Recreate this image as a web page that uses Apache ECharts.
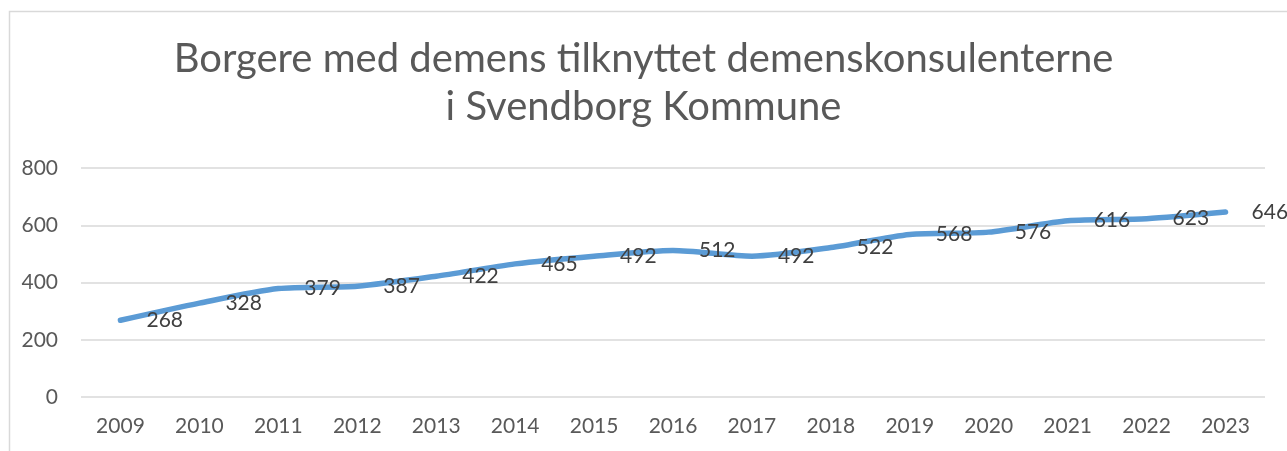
<!DOCTYPE html>
<html>
<head>
<meta charset="utf-8">
<script src="https://cdn.jsdelivr.net/npm/echarts@6/dist/echarts.min.js"></script>
<style>
  html, body { margin: 0; padding: 0; background: #fff; }
  #chart { width: 1287px; height: 451px; }
</style>
</head>
<body>
<div id="chart"></div>
<script>
// data
const years = ['2009', '2010', '2011', '2012', '2013', '2014', '2015', '2016',
    '2017', '2018', '2019', '2020', '2021', '2022', '2023'];
const citizens = [268, 328, 379, 387, 422, 465, 492, 512, 492, 522, 568, 576, 616, 623, 646];
const yTicks = [0, 200, 400, 600, 800];

const fontFamily = 'Lato, "Open Sans", sans-serif';

const chart = echarts.init(document.getElementById('chart'), null, { renderer: 'canvas' });

const option = {
    backgroundColor: '#fff',
    animation: false,
    title: {
        text: 'Borgere med demens tilknyttet demenskonsulenterne\ni Svendborg Kommune',
        left: 'center',
        top: 30,
        textStyle: {
            color: '#595959',
            fontFamily: fontFamily,
            fontSize: 40,
            fontWeight: 'normal',
            lineHeight: 48
        }
    },
    // chart frame (runs off the right and bottom edges)
    graphic: [{
        type: 'rect',
        shape: { x: 9.5, y: 11.5, width: 1400, height: 600 },
        style: { fill: 'none', stroke: '#d9d9d9', lineWidth: 1.5 },
        silent: true,
        z: -1
    }],
    grid: {
        left: 81,
        right: 22,
        top: 168,
        bottom: 54
    },
    xAxis: {
        type: 'category',
        data: years,
        boundaryGap: true,
        axisLine: { show: false },
        axisTick: { show: false },
        axisLabel: {
            color: '#595959',
            fontFamily: fontFamily,
            fontSize: 21,
            margin: 19
        }
    },
    yAxis: {
        type: 'value',
        min: yTicks[0],
        max: yTicks[yTicks.length - 1],
        interval: 200,
        axisLine: { show: false },
        axisTick: { show: false },
        splitLine: { lineStyle: { color: '#d9d9d9', width: 1.5 } },
        axisLabel: {
            color: '#595959',
            fontFamily: fontFamily,
            fontSize: 21,
            margin: 23
        }
    },
    series: [{
        name: 'Borgere',
        type: 'line',
        data: citizens,
        smooth: 0.25,
        symbol: 'circle',
        symbolSize: 2,
        showSymbol: true,
        itemStyle: { color: '#5B9BD5' },
        lineStyle: { color: '#5B9BD5', width: 5.5, cap: 'round', join: 'round' },
        label: {
            show: true,
            position: 'right',
            distance: 25,
            color: '#404040',
            fontFamily: fontFamily,
            fontSize: 21
        }
    }]
};

chart.setOption(option);
</script>
</body>
</html>
